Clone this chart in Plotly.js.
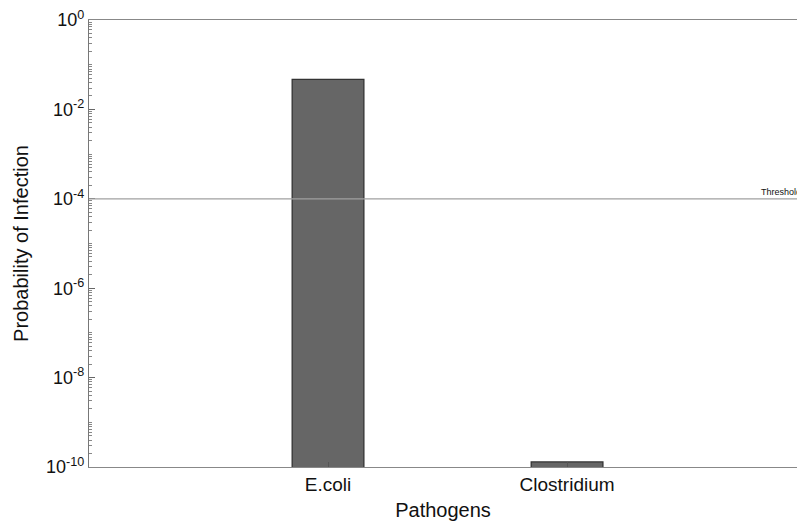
<!DOCTYPE html>
<html>
<head>
<meta charset="utf-8">
<script src="https://cdn.plot.ly/plotly-3.0.1.min.js"></script>
<style>html,body{margin:0;padding:0;background:#fff;}#chart{width:797px;height:525px;}</style>
</head>
<body>
<div id="chart"></div>
<script>
const categories = ["E.coli", "Clostridium"];
const probabilities = [0.047, 1.3e-10];
const thresholdValue = 1e-4;
const thresholdLabel = "Threshold";
const yTickVals = [1e-10, 1e-8, 1e-6, 1e-4, 1e-2, 1];
const yTickText = ["10<sup>-10</sup>", "10<sup>-8</sup>", "10<sup>-6</sup>", "10<sup>-4</sup>", "10<sup>-2</sup>", "10<sup>0</sup>"];

const font = "Liberation Sans, Arial, Helvetica, sans-serif";

const trace = {
  type: "bar",
  x: categories,
  y: probabilities,
  width: 0.3,
  marker: {color: "#666666", line: {color: "#333333", width: 1.3}},
  hoverinfo: "x+y"
};

const layout = {
  width: 797, height: 525,
  margin: {l: 89, r: 0, t: 20, b: 58},
  paper_bgcolor: "#ffffff",
  plot_bgcolor: "#ffffff",
  showlegend: false,
  font: {family: font, color: "#000"},
  xaxis: {
    type: "category",
    range: [-1, 1.962],
    showline: true, linecolor: "#888", linewidth: 1.2, mirror: true,
    ticks: "inside", ticklen: 5, tickcolor: "#555",
    showgrid: false, zeroline: false,
    tickfont: {size: 19, family: font, color: "#111"},
    title: {text: "Pathogens", font: {size: 20, family: font, color: "#111"}, standoff: 9},
    automargin: false
  },
  yaxis: {
    type: "log",
    range: [-10, 0],
    tickvals: yTickVals,
    ticktext: yTickText,
    showline: true, linecolor: "#777", linewidth: 1.2,
    ticks: "inside", ticklen: 6, tickcolor: "#666",
    minor: {dtick: "D1", ticks: "inside", ticklen: 3, tickcolor: "#888", showgrid: false},
    showgrid: false, zeroline: false,
    tickfont: {size: 18, family: font, color: "#111"},
    title: {text: "Probability of Infection", font: {size: 20, family: font, color: "#111"}, standoff: 12},
    automargin: false
  },
  shapes: [{
    type: "line", xref: "paper", x0: 0, x1: 1,
    yref: "y", y0: thresholdValue, y1: thresholdValue,
    line: {color: "#a0a0a0", width: 1.2}
  }],
  annotations: [{
    xref: "paper", x: 0.946, xanchor: "left",
    yref: "y", y: Math.log10(thresholdValue), yanchor: "bottom",
    text: thresholdLabel, showarrow: false,
    font: {size: 9, family: font, color: "#111"}
  }]
};

Plotly.newPlot("chart", [trace], layout, {displayModeBar: false, staticPlot: true});
</script>
</body>
</html>
